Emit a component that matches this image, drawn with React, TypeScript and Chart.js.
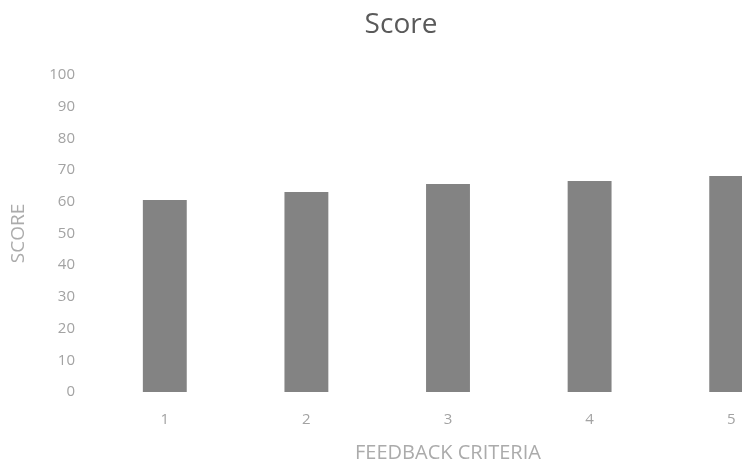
import React, { useEffect, useRef } from "react";
import { Chart, registerables } from "chart.js";

Chart.register(...registerables);

const categories = ["1", "2", "3", "4", "5"];
const scores = [60.6, 63.1, 65.6, 66.6, 68.1];
const chartTitle = "Score";
const xAxisTitle = "FEEDBACK CRITERIA";
const yAxisTitle = "SCORE";

const FONT = "'Open Sans', sans-serif";

export default function App() {
  const ref = useRef<HTMLCanvasElement>(null);

  useEffect(() => {
    if (!ref.current) return;
    const chart = new Chart(ref.current, {
      type: "bar",
      data: {
        labels: categories,
        datasets: [
          {
            label: chartTitle,
            data: scores,
            backgroundColor: "#838383",
            borderWidth: 0,
            categoryPercentage: 1,
            barPercentage: 0.31,
          },
        ],
      },
      options: {
        responsive: false,
        animation: false,
        layout: { padding: { left: 0, right: 2, top: 0, bottom: 0 } },
        plugins: {
          legend: { display: false },
          tooltip: { enabled: false },
          title: {
            display: true,
            text: chartTitle,
            color: "#5a5a5a",
            font: { family: FONT, size: 28, weight: "normal" },
            padding: { top: 8, bottom: 33.4 },
          },
        },
        scales: {
          x: {
            grid: { display: false, drawTicks: false },
            border: { display: false },
            ticks: {
              color: "#a3a3a3",
              font: { family: FONT, size: 15 },
              padding: 19,
            },
            title: {
              display: true,
              text: xAxisTitle,
              color: "#ababab",
              font: { family: FONT, size: 20 },
              padding: { top: 0, bottom: 0 },
            },
            afterFit: (s: any) => {
              s.height = 73;
            },
          },
          y: {
            min: 0,
            max: 100,
            grid: { display: false, drawTicks: false },
            border: { display: false },
            ticks: {
              stepSize: 10,
              color: "#a3a3a3",
              font: { family: FONT, size: 15 },
              padding: 19,
            },
            title: {
              display: true,
              text: yAxisTitle,
              color: "#ababab",
              font: { family: FONT, size: 19 },
              padding: { top: 7, bottom: 0 },
            },
            afterFit: (s: any) => {
              s.width = 94;
            },
          },
        },
      },
    });
    return () => chart.destroy();
  }, []);

  return (
    <div
      style={{
        position: "fixed",
        left: 0,
        top: 0,
        width: 742,
        height: 465,
        overflow: "hidden",
        background: "#fff",
      }}
    >
      <canvas ref={ref} width={804} height={465} style={{ display: "block" }} />
    </div>
  );
}
